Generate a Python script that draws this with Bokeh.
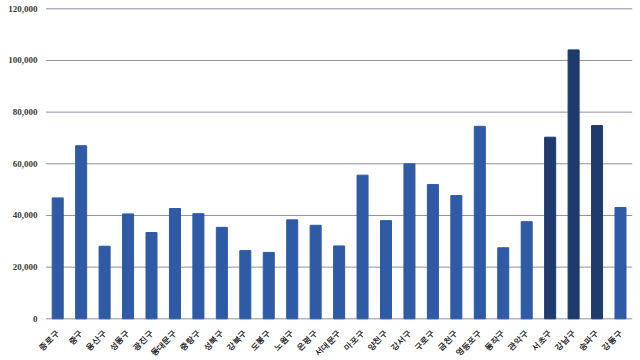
from bokeh.plotting import figure
from bokeh.models import ColumnDataSource, Range1d, LabelSet
from bokeh.embed import file_html
from bokeh.resources import INLINE
import math

districts = ["종로구", "중구", "용산구", "성동구", "광진구", "동대문구", "중랑구", "성북구",
             "강북구", "도봉구", "노원구", "은평구", "서대문구", "마포구", "양천구", "강서구",
             "구로구", "금천구", "영등포구", "동작구", "관악구", "서초구", "강남구", "송파구", "강동구"]
values = [46800, 67000, 28100, 40600, 33400, 42700, 40700, 35400,
          26400, 25700, 38300, 36200, 28200, 55600, 38000, 60000,
          52000, 47700, 74500, 27500, 37600, 70300, 104100, 74800, 43100]
y_ticks = [0, 20000, 40000, 60000, 80000, 100000, 120000]
y_tick_labels = [f"{t:,}" for t in y_ticks]
highlight = ["서초구", "강남구", "송파구"]

main_color = "#2e5aa6"
dark_color = "#1f3a6c"
grid_color = "#8d929c"
colors = [dark_color if d in highlight else main_color for d in districts]

# ---- layout (pixels within the figure) ----
fig_w, fig_h = 640, 360
first_center_px = 57.2     # centre of the first bar
cat_px = 23.45             # spacing between bars
top_grid_px = 8.3          # top gridline distance from the figure top
zero_px = 318.3            # zero line distance from the figure top

x_start = -first_center_px / cat_px
x_end = x_start + fig_w / cat_px
units_per_px = y_ticks[-1] / (zero_px - top_grid_px)
y_end = y_ticks[-1] + top_grid_px * units_per_px
y_start = -(fig_h - zero_px) * units_per_px

n = len(districts)
xs = list(range(n))

bars = ColumnDataSource(data=dict(x=xs, top=values, color=colors, name=districts,
                                  ly=[-13 * units_per_px] * n))
grid = ColumnDataSource(data=dict(y=y_ticks, label=y_tick_labels,
                                  x0=[-0.5] * len(y_ticks), x1=[n - 0.5] * len(y_ticks)))

p = figure(x_range=Range1d(x_start, x_end), y_range=Range1d(y_start, y_end),
           width=fig_w, height=fig_h, output_backend="svg", toolbar_location=None,
           min_border=0)
p.xaxis.visible = False
p.yaxis.visible = False
p.grid.visible = False
p.outline_line_color = None
p.background_fill_color = "white"
p.border_fill_color = "white"

p.segment(x0="x0", x1="x1", y0="y", y1="y", line_color=grid_color, line_width=1, source=grid)
p.vbar(x="x", top="top", width=0.47, color="color", source=bars)

ylabels = LabelSet(x="x0", y="y", text="label", source=grid, x_offset=-8.5,
                   text_align="right", text_baseline="middle",
                   text_font="Liberation Sans", text_font_size="9px",
                   text_font_style="bold", text_color="#3a3a3a")
p.add_layout(ylabels)

xlabels = LabelSet(x="x", y="ly", text="name", source=bars, angle=math.pi / 4,
                   text_align="right", text_baseline="middle", x_offset=0,
                   text_font="Noto Sans CJK KR", text_font_size="8px",
                   text_font_style="bold", text_color="#222222")
p.add_layout(xlabels)

open("out.html", "w").write(file_html(p, INLINE))
